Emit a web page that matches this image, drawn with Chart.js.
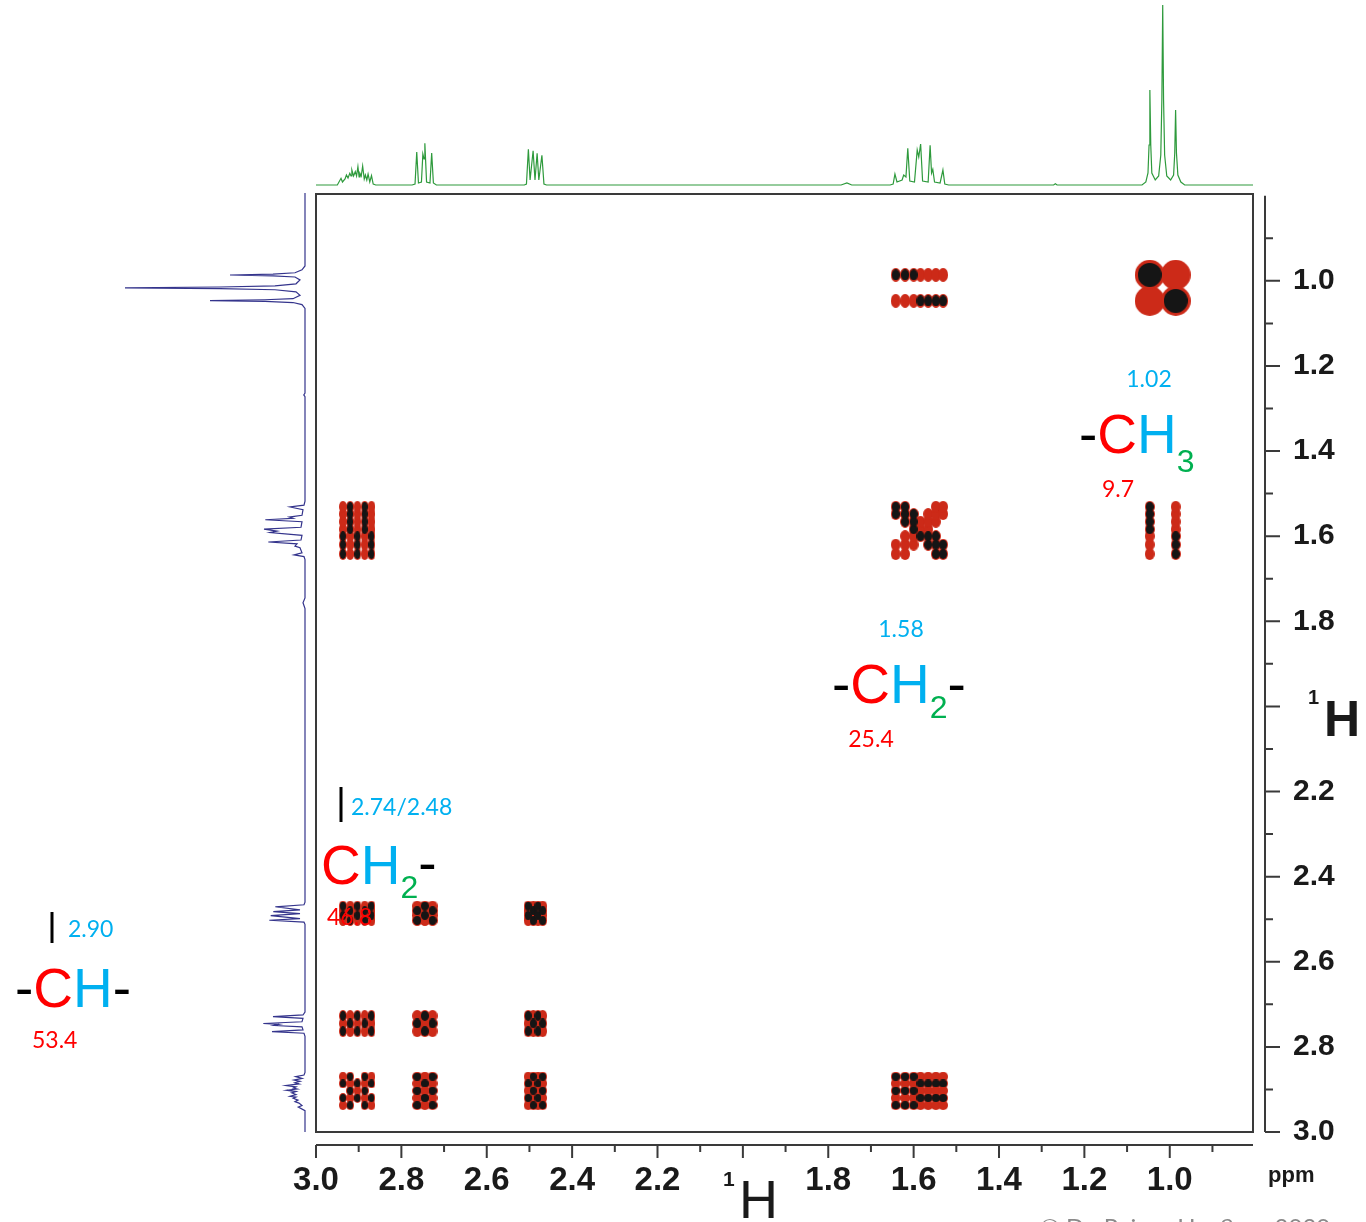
<!DOCTYPE html>
<html>
<head>
<meta charset="utf-8">
<title>COSY 1H-1H</title>
<script src="https://cdn.jsdelivr.net/npm/chart.js@4.4.1/dist/chart.umd.min.js"></script>
<style>
  html, body { margin: 0; padding: 0; background: #fff; }
  #wrap { position: relative; width: 1366px; height: 1222px; overflow: hidden; }
  #wrap canvas { position: absolute; left: 0; top: 0; }
</style>
</head>
<body>
<div id="wrap">
  <canvas id="topSpec" width="1366" height="194"></canvas>
  <canvas id="sideSpec" width="316" height="1222"></canvas>
  <canvas id="cosy" width="1366" height="1222"></canvas>
</div>
<script>
// Rango de los ejes (ppm)
const X_MIN = 0.805, X_MAX = 3.0;
const Y_MIN = 0.796, Y_MAX = 3.0;

// Marcas de los ejes
const ppmTicks = [3.0, 2.8, 2.6, 2.4, 2.2, 2.0, 1.8, 1.6, 1.4, 1.2, 1.0];
const ppmMinorTicks = [2.9, 2.7, 2.5, 2.3, 2.1, 1.9, 1.7, 1.5, 1.3, 1.1, 0.9];

// Espectro 1H (ppm, intensidad) leído por multiplete
const multCH = [[2.950,0],[2.9414,6.7],[2.938,3],[2.932,6],[2.9287,10],[2.925,7],[2.9208,11.7],[2.918,9],[2.916,15],[2.912,9],[2.908,13.3],[2.905,9],[2.9018,18.3],[2.899,8],[2.897,11.7],[2.894,9],[2.8907,19],[2.887,6],[2.8843,10],[2.881,5],[2.878,11],[2.874,3],[2.870,9.3],[2.866,1],[2.860,0]];
const multCH2a = [[2.775,0],[2.768,1],[2.764,33],[2.760,2],[2.753,3],[2.7497,31],[2.747,26],[2.745,41.7],[2.741,3],[2.733,2],[2.729,32],[2.725,2],[2.718,0]];
const multCH2b = [[2.512,0],[2.507,1],[2.5025,35.7],[2.4985,5],[2.4914,34.3],[2.487,5],[2.482,31.7],[2.478,5],[2.4708,29.7],[2.466,1],[2.460,0]];
const multRuido = [[1.770,0],[1.7563,2],[1.745,0],[1.272,0],[1.268,1.2],[1.264,0]];
const multCH2m = [[1.655,0],[1.648,1],[1.6438,11],[1.639,3],[1.627,5],[1.6233,10],[1.618,8],[1.6137,36.7],[1.609,4],[1.598,3],[1.5916,35],[1.588,28],[1.5836,41],[1.579,4],[1.566,3],[1.5614,39.7],[1.558,12],[1.5551,15.7],[1.551,3],[1.538,2],[1.5314,15],[1.527,1],[1.518,0]];
const multCH3 = [[1.065,0],[1.056,3],[1.051,12],[1.0485,40],[1.0466,95],[1.0445,40],[1.042,12],[1.034,5],[1.026,9],[1.021,30],[1.0185,85],[1.0165,180],[1.0145,85],[1.012,30],[1.007,9],[0.998,5],[0.991,10],[0.9883,32],[0.9863,75],[0.9843,32],[0.981,10],[0.974,3],[0.965,0]];

// Líneas de cada grupo en los picos de cruce y su signo (antifase)
const lnCH = [2.937, 2.920, 2.903, 2.886, 2.870];
const sgCH = [1, -1, 1, -1, 1];
const lnCH2a = [2.763, 2.745, 2.727];
const sgCH2a = [-1, 1, -1];
const lnCH2b = [2.503, 2.491, 2.480, 2.469];
const sgCH2b = [1, -1, 1, -1];
const lnCH2m = [1.642, 1.620, 1.600, 1.584, 1.566, 1.548, 1.531];
const sgCH2m = [-1, -1, -1, 1, 1, 1, 1];
const lnCH3 = [1.047, 0.986];
const sgCH3 = [-1, 1];

// Picos de cruce: grupo en F2 (x) y en F1 (y)
const crossX = ['CH3', 'CH2m', 'CH', 'CH2m', 'CH3', 'CH', 'CH2a', 'CH2b', 'CH', 'CH2a', 'CH2b', 'CH', 'CH2a', 'CH2b', 'CH2m'];
const crossY = ['CH3', 'CH3', 'CH2m', 'CH2m', 'CH2m', 'CH2b', 'CH2b', 'CH2b', 'CH2a', 'CH2a', 'CH2a', 'CH', 'CH', 'CH', 'CH'];

// ---- estilos ----
const ROJO = '#cc2a18';
const NEGRO = '#151515';
const VERDE_ESP = '#2e9a3c';
const AZUL_ESP = '#34348c';
const C_ROJO = '#ff0000', C_AZUL = '#00b0f0', C_VERDE = '#00b050';
const NARROW = "'Liberation Sans Narrow', 'Arial Narrow', 'Liberation Sans', sans-serif";
const F_NUM = "23px Lato, 'Open Sans', sans-serif";
const F_GRANDE = '55px ' + NARROW;
const F_SUB = '32px ' + NARROW;
const anchoPunto = { CH: 8, CH2a: 10, CH2b: 9, CH2m: 10, CH3: 10 };
const altoPunto = { CH: 10, CH2a: 12, CH2b: 11, CH2m: 12, CH3: 14 };

const grupos = {
    CH: [lnCH, sgCH], CH2a: [lnCH2a, sgCH2a], CH2b: [lnCH2b, sgCH2b],
    CH2m: [lnCH2m, sgCH2m], CH3: [lnCH3, sgCH3]
};

// Espectro completo ordenado por ppm
const espectro = [[3.0, 0], ...multCH, ...multCH2a, ...multCH2b, ...multRuido, ...multCH2m, ...multCH3, [0.79, 0]]
    .sort((a, b) => b[0] - a[0]);

// Construir puntos de los picos de cruce
const puntosPos = [];
const puntosNeg = [];
crossX.forEach((gx, k) => {
    const gy = crossY[k];
    const [lx, sx] = grupos[gx];
    const [ly, sy] = grupos[gy];
    const n = lx.length;
    lx.forEach((xv, i) => {
        ly.forEach((yv, j) => {
            // en la diagonal grande se forma una X
            if (gx === gy && n >= 5 && Math.abs(i - j) > 1 && Math.abs(i + j - (n - 1)) > 1) return;
            puntosPos.push({ x: xv, y: yv, gx: gx, gy: gy });
            if (sx[i] * sy[j] < 0) puntosNeg.push({ x: xv, y: yv, gx: gx, gy: gy });
        });
    });
});

const cacheElipses = {};
function elipse(w, h, color) {
    const k = w + 'x' + h + color;
    if (!cacheElipses[k]) {
        const c = document.createElement('canvas');
        c.width = Math.ceil(w);
        c.height = Math.ceil(h);
        const g = c.getContext('2d');
        g.fillStyle = color;
        g.beginPath();
        g.ellipse(c.width / 2, c.height / 2, w / 2, h / 2, 0, 0, 2 * Math.PI);
        g.fill();
        cacheElipses[k] = c;
    }
    return cacheElipses[k];
}

function estiloPunto(raw, color, f) {
    let w = anchoPunto[raw.gx], h = altoPunto[raw.gy];
    if (raw.gx === 'CH3' && raw.gy === 'CH3') { w = 30; h = 30; }
    return elipse(Math.round(w * f), Math.round(h * f), color);
}

const sinInteraccion = { responsive: false, animation: false, events: [] };
const sinLeyenda = { legend: { display: false }, tooltip: { enabled: false } };

// Espectro de proyección superior
new Chart(document.getElementById('topSpec'), {
    type: 'scatter',
    data: {
        datasets: [{
            data: espectro.map(p => ({ x: p[0], y: p[1] })),
            showLine: true, pointRadius: 0, borderColor: VERDE_ESP, borderWidth: 1.2,
            clip: { left: 1, right: 0, top: 6, bottom: 3 }
        }]
    },
    options: {
        ...sinInteraccion,
        layout: { padding: { left: 316, right: 113, top: 4, bottom: 9 } },
        plugins: sinLeyenda,
        scales: {
            x: { type: 'linear', display: false, reverse: true, min: X_MIN, max: X_MAX },
            y: { type: 'linear', display: false, min: 0, max: 181 }
        }
    }
});

// Espectro de proyección izquierdo
new Chart(document.getElementById('sideSpec'), {
    type: 'scatter',
    data: {
        datasets: [{
            data: espectro.map(p => ({ x: p[1], y: p[0] })),
            showLine: true, pointRadius: 0, borderColor: AZUL_ESP, borderWidth: 1.2,
            clip: { left: 6, right: 3, top: 1, bottom: 0 }
        }]
    },
    options: {
        ...sinInteraccion,
        layout: { padding: { left: 125, right: 11, top: 194, bottom: 90 } },
        plugins: sinLeyenda,
        scales: {
            x: { type: 'linear', display: false, reverse: true, min: 0, max: 180 },
            y: { type: 'linear', display: false, reverse: true, min: Y_MIN, max: Y_MAX }
        }
    }
});

// Función para escribir texto con partes de distinto color
function escribir(ctx, x, y, partes) {
    let cx = x;
    partes.forEach(([t, color, font, dy]) => {
        ctx.font = font;
        ctx.fillStyle = color;
        ctx.fillText(t, cx, y + (dy || 0));
        cx += ctx.measureText(t).width;
    });
}

function barra(ctx, x, y0, y1) {
    ctx.fillStyle = '#000';
    ctx.fillRect(x - 1.5, y0, 3, y1 - y0);
}

// Marco, ejes separados y anotaciones
const marcoPlugin = {
    id: 'marco',
    afterDraw(chart) {
        const { ctx, chartArea: a, scales: { x, y } } = chart;
        ctx.save();
        ctx.strokeStyle = '#3a3a3a';
        ctx.lineWidth = 2;
        ctx.strokeRect(a.left, a.top, a.right - a.left, a.bottom - a.top);

        // eje inferior
        const ya = a.bottom + 13;
        ctx.beginPath();
        ctx.moveTo(a.left, ya);
        ctx.lineTo(a.right, ya);
        ppmTicks.forEach(v => { const px = x.getPixelForValue(v); ctx.moveTo(px, ya); ctx.lineTo(px, ya + 13); });
        ppmMinorTicks.forEach(v => { const px = x.getPixelForValue(v); ctx.moveTo(px, ya); ctx.lineTo(px, ya + 7); });
        // eje derecho
        const xa = a.right + 12;
        ctx.moveTo(xa, y.getPixelForValue(0.8));
        ctx.lineTo(xa, a.bottom);
        ppmTicks.forEach(v => { const py = y.getPixelForValue(v); ctx.moveTo(xa, py); ctx.lineTo(xa + 15, py); });
        ppmMinorTicks.forEach(v => { const py = y.getPixelForValue(v); ctx.moveTo(xa, py); ctx.lineTo(xa + 8, py); });
        ctx.stroke();

        ctx.textBaseline = 'alphabetic';
        ctx.fillStyle = '#1a1a1a';
        // 1H en los ejes
        const x2 = x.getPixelForValue(2.0);
        ctx.textAlign = 'center';
        ctx.font = 'bold 21px ' + NARROW;
        ctx.fillText('1', x2 - 14, 1186);
        ctx.textAlign = 'left';
        ctx.font = '54px ' + NARROW;
        ctx.fillText('H', x2 - 4, 1218);
        const y2 = y.getPixelForValue(2.0);
        ctx.font = "bold 20px 'Liberation Sans', sans-serif";
        ctx.fillText('1', 1308, y2 - 2);
        ctx.font = "bold 50px 'Liberation Sans', sans-serif";
        ctx.fillText('H', 1324, y2 + 30);
        ctx.font = 'bold 22px ' + NARROW;
        ctx.fillText('ppm', 1268, 1182);

        // anotaciones de la molécula
        ctx.textAlign = 'center';
        ctx.font = F_NUM;
        ctx.fillStyle = C_AZUL;
        ctx.fillText('1.02', 1149, 387);
        ctx.fillText('1.58', 901, 637);
        ctx.fillStyle = C_ROJO;
        ctx.fillText('9.7', 1118, 497);
        ctx.fillText('25.4', 871, 747);
        ctx.textAlign = 'left';
        ctx.fillText('46.8', 327, 925);
        ctx.fillText('53.4', 32, 1048);
        ctx.fillStyle = C_AZUL;
        ctx.fillText('2.74/2.48', 351, 815);
        ctx.fillText('2.90', 68, 937);

        escribir(ctx, 1079, 453, [['-', '#000', F_GRANDE], ['C', C_ROJO, F_GRANDE], ['H', C_AZUL, F_GRANDE], ['3', C_VERDE, F_SUB, 19]]);
        escribir(ctx, 832, 703, [['-', '#000', F_GRANDE], ['C', C_ROJO, F_GRANDE], ['H', C_AZUL, F_GRANDE], ['2', C_VERDE, F_SUB, 15], ['-', '#000', F_GRANDE]]);
        escribir(ctx, 321, 884, [['C', C_ROJO, F_GRANDE], ['H', C_AZUL, F_GRANDE], ['2', C_VERDE, F_SUB, 14], ['-', '#000', F_GRANDE, -2]]);
        escribir(ctx, 15, 1007, [['-', '#000', F_GRANDE], ['C', C_ROJO, F_GRANDE], ['H', C_AZUL, F_GRANDE], ['-', '#000', F_GRANDE]]);
        barra(ctx, 341, 787, 822);
        barra(ctx, 52, 912, 943);

        ctx.font = "24px Lato, 'Open Sans', sans-serif";
        ctx.fillStyle = '#8a8a8a';
        ctx.fillText('\u00a9 Dr. Rainer Haeßner 2020', 1040, 1236);
        ctx.restore();
    }
};

const fuenteEje = { family: NARROW, size: 33, weight: 'bold' };

// Espectro COSY principal (el primer dataset se dibuja encima)
new Chart(document.getElementById('cosy'), {
    type: 'scatter',
    data: {
        datasets: [{
            label: 'negativo',
            data: puntosNeg,
            pointRadius: 3,
            pointStyle: c => estiloPunto(c.raw, NEGRO, 0.8)
        }, {
            label: 'positivo',
            data: puntosPos,
            pointRadius: 3,
            pointStyle: c => estiloPunto(c.raw, ROJO, 1)
        }]
    },
    options: {
        ...sinInteraccion,
        layout: { padding: { left: 316, top: 194, right: 0, bottom: 0 } },
        plugins: sinLeyenda,
        scales: {
            x: {
                type: 'linear', position: 'bottom', reverse: true, min: X_MIN, max: X_MAX,
                afterFit: s => { s.height = 90; },
                afterBuildTicks: s => { s.ticks = ppmTicks.map(v => ({ value: v })); },
                grid: { display: false, drawTicks: false },
                border: { display: false },
                ticks: {
                    padding: 29, autoSkip: false, maxRotation: 0, minRotation: 0,
                    color: '#1a1a1a', font: fuenteEje,
                    callback: v => (Math.abs(v - 2.0) < 1e-6 ? '' : v.toFixed(1))
                }
            },
            y: {
                type: 'linear', position: 'right', reverse: true, min: Y_MIN, max: Y_MAX,
                afterFit: s => { s.width = 113; },
                afterBuildTicks: s => { s.ticks = ppmTicks.map(v => ({ value: v })); },
                grid: { display: false, drawTicks: false },
                border: { display: false },
                ticks: {
                    padding: 40, autoSkip: false,
                    color: '#1a1a1a', font: { family: "'Liberation Sans', sans-serif", size: 30, weight: 'bold' },
                    callback: v => (Math.abs(v - 2.0) < 1e-6 ? '' : v.toFixed(1))
                }
            }
        }
    },
    plugins: [marcoPlugin]
});
</script>
</body>
</html>
